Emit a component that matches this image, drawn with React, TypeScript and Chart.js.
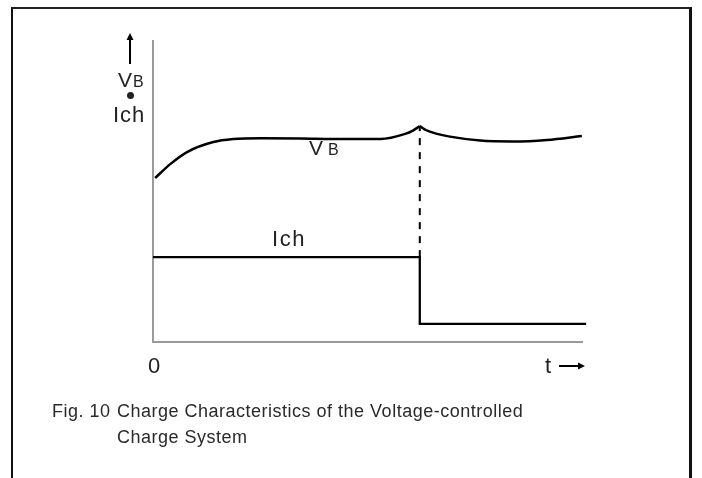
import React, { useEffect, useRef } from "react";
import { Chart, registerables } from "chart.js";

Chart.register(...registerables);

// Time axis runs 0..100 (arbitrary units), vertical axis 0..100 (arbitrary units)
const vbRiseTime = [0.5, 4, 7.9, 14, 18.6, 24.9, 34.2, 43.5, 52.8, 58.5, 60.3, 61.9];
const vbRiseValue = [54.3, 58.9, 62.9, 66.2, 67.2, 67.5, 67.4, 67.2, 67.2, 68.9, 70.0, 71.5];
const vbFallTime = [61.9, 63.3, 65.7, 68.9, 75.9, 83.5, 91.4, 99.5];
const vbFallValue = [71.5, 70.2, 69.0, 68.0, 66.7, 66.4, 66.9, 68.2];
const ichTime = [0, 61.9, 61.9, 100.5];
const ichValue = [28.1, 28.1, 6.0, 6.0];
const switchTime = 61.9;
const switchLow = 28.1;
const switchHigh = 71.5;

const toPts = (xs: number[], ys: number[]) => xs.map((x, i) => ({ x, y: ys[i] }));

const FONT = "'Liberation Sans', Arial, Helvetica, sans-serif";

export default function App() {
  const ref = useRef<HTMLCanvasElement>(null);
  useEffect(() => {
    if (!ref.current) return;
    const axisPlugin = {
      id: "axes",
      beforeDatasetsDraw(chart: any) {
        const { ctx, chartArea } = chart;
        ctx.save();
        ctx.strokeStyle = "#9a9a9a";
        ctx.lineWidth = 2;
        ctx.beginPath();
        ctx.moveTo(chartArea.left, chartArea.top);
        ctx.lineTo(chartArea.left, chartArea.bottom);
        ctx.lineTo(chartArea.right - 1, chartArea.bottom);
        ctx.stroke();
        ctx.restore();
      },
    };
    const chart = new Chart(ref.current, {
      type: "line",
      data: {
        datasets: [
          {
            data: toPts(vbRiseTime, vbRiseValue),
            borderColor: "#000",
            borderWidth: 2.5,
            pointRadius: 0,
            cubicInterpolationMode: "monotone",
            fill: false,
          },
          {
            data: toPts(vbFallTime, vbFallValue),
            borderColor: "#000",
            borderWidth: 2.5,
            pointRadius: 0,
            cubicInterpolationMode: "monotone",
            fill: false,
          },
          {
            data: toPts(ichTime, ichValue),
            borderColor: "#000",
            borderWidth: 2.3,
            pointRadius: 0,
            tension: 0,
            fill: false,
          },
          {
            data: [
              { x: switchTime, y: switchLow },
              { x: switchTime, y: switchHigh },
            ],
            borderColor: "#000",
            borderWidth: 2,
            borderDash: [7, 7],
            pointRadius: 0,
            fill: false,
          },
        ],
      },
      options: {
        animation: false,
        responsive: false,
        maintainAspectRatio: false,
        layout: { padding: { left: 153, right: 118, top: 40, bottom: 136 } },
        plugins: { legend: { display: false }, tooltip: { enabled: false } },
        scales: {
          x: { type: "linear", min: 0, max: 100, display: false },
          y: { type: "linear", min: 0, max: 100, display: false },
        },
        datasets: { line: { clip: false } as any },
      } as any,
      plugins: [axisPlugin],
    });
    return () => chart.destroy();
  }, []);

  const txt = (left: number, top: number, content: React.ReactNode, size = 22, extra: any = {}) => (
    <div
      style={{
        position: "absolute",
        left,
        top,
        fontFamily: FONT,
        fontSize: size,
        lineHeight: 1,
        color: "#222",
        whiteSpace: "nowrap",
        letterSpacing: 1,
        ...extra,
      }}
    >
      {content}
    </div>
  );

  const vb = (gap: number) => (
    <span>
      <span style={{ marginRight: gap }}>V</span>
      <span style={{ fontSize: 16 }}>B</span>
    </span>
  );

  return (
    <div style={{ position: "absolute", left: 0, top: 0, width: 702, height: 478, overflow: "hidden", background: "#fff" }}>
      <div
        style={{
          position: "absolute",
          left: 11,
          top: 7,
          width: 676,
          height: 500,
          borderLeft: "2.5px solid #111",
          borderTop: "2.5px solid #222",
          borderRight: "3px solid #111",
        }}
      />
      <canvas ref={ref} width={702} height={478} style={{ position: "absolute", left: 0, top: 0 }} />
      {/* vertical axis arrow */}
      <svg style={{ position: "absolute", left: 124, top: 32 }} width={12} height={34}>
        <line x1={6} y1={4} x2={6} y2={32} stroke="#000" strokeWidth={2} />
        <polygon points="2.5,8 6,1 9.5,8" fill="#000" />
      </svg>
      {txt(118, 69, vb(0), 21)}
      <div style={{ position: "absolute", left: 127, top: 92, width: 7, height: 7, borderRadius: 4, background: "#222" }} />
      {txt(113, 104, "Ich")}
      {txt(309, 137, vb(4), 21, { letterSpacing: 1 })}
      {txt(272, 228, "Ich", 22, { letterSpacing: 1.6 })}
      {txt(148, 355, "0")}
      {txt(545, 355, "t")}
      <svg style={{ position: "absolute", left: 558, top: 360 }} width={30} height={12}>
        <line x1={1} y1={6} x2={24} y2={6} stroke="#000" strokeWidth={2} />
        <polygon points="20,2.5 27,6 20,9.5" fill="#000" />
      </svg>
      {txt(52, 398, "Fig. 10", 18, { letterSpacing: 0.5, lineHeight: "26px", color: "#2a2a2a" })}
      <div
        style={{
          position: "absolute",
          left: 117,
          top: 398,
          fontFamily: FONT,
          fontSize: 18,
          lineHeight: "26px",
          color: "#2a2a2a",
          letterSpacing: 0.5,
          whiteSpace: "nowrap",
        }}
      >
        Charge Characteristics of the Voltage-controlled
        <br />
        Charge System
      </div>
    </div>
  );
}
